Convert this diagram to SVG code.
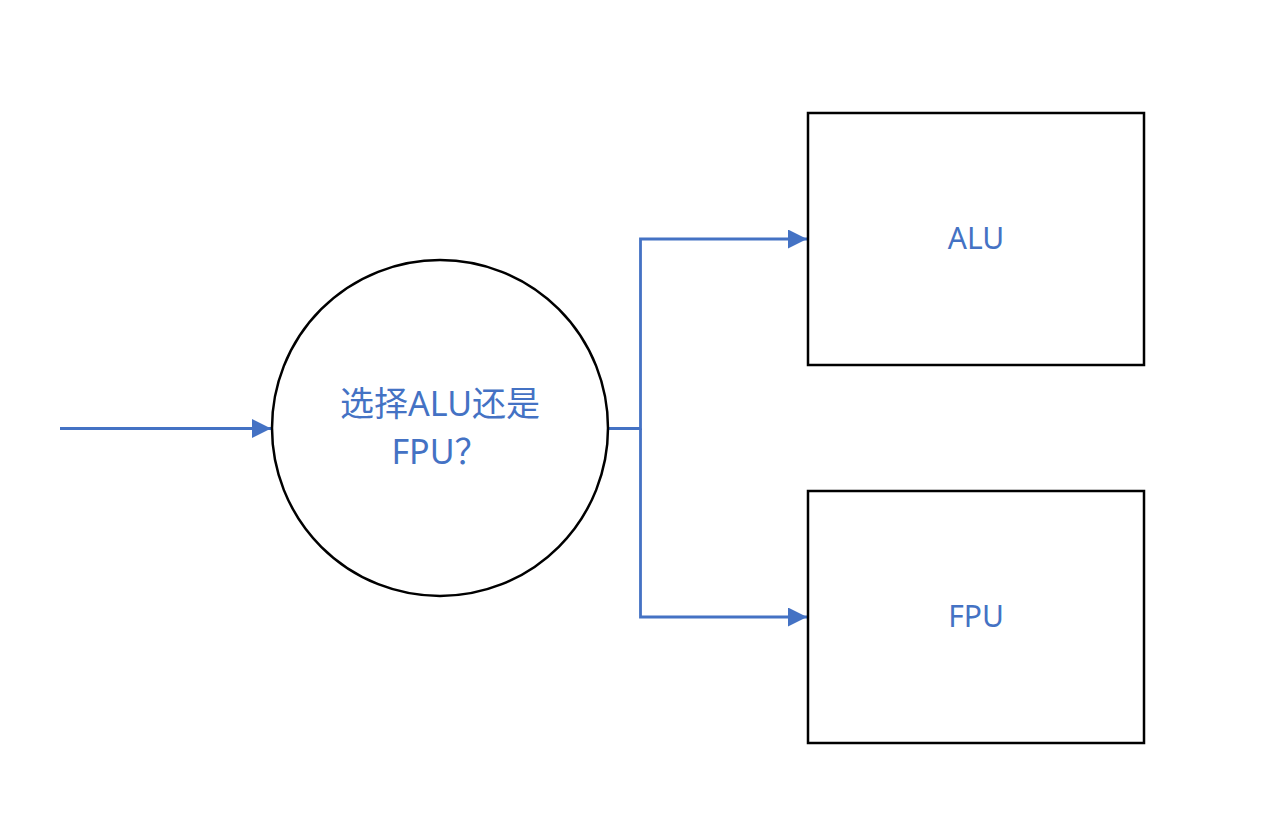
<svg xmlns="http://www.w3.org/2000/svg" width="1262" height="832" viewBox="0 0 1262 832">
<style>
.shape{fill:#fff;stroke:#000;stroke-width:2.5}
.conn{fill:none;stroke:#4472C4;stroke-width:2.8}
.lbl{fill:#4472C4;font-family:"Noto Sans","Noto Sans CJK SC",sans-serif;text-anchor:middle}
</style>
<defs>
<marker id="arr" viewBox="0 0 10 10" refX="10" refY="5" markerWidth="20" markerHeight="19" markerUnits="userSpaceOnUse" orient="auto">
<path d="M0,0 L10,5 L0,10 z" fill="#4472C4"/>
</marker>
</defs>
<rect width="1262" height="832" fill="#fff"/>
<g id="connectors">
<path class="conn" d="M60,428.5 H271" marker-end="url(#arr)"/>
<path class="conn" d="M608,428.5 H640.5 V239 H807" marker-end="url(#arr)"/>
<path class="conn" d="M640.5,428.5 V617 H807" marker-end="url(#arr)"/>
</g>
<g id="decision">
<circle class="shape" cx="440" cy="428" r="168"/>
<text class="lbl" x="440" y="416" font-size="34" font-family="'Noto Sans CJK SC',sans-serif">选择ALU还是</text>
<text class="lbl" x="440" y="464" font-size="34" font-family="'Noto Sans CJK SC',sans-serif">FPU？</text>
</g>
<g id="alu">
<rect class="shape" x="808" y="113" width="336" height="252"/>
<text class="lbl" x="976" y="249" font-size="30">ALU</text>
</g>
<g id="fpu">
<rect class="shape" x="808" y="491" width="336" height="252"/>
<text class="lbl" x="976" y="627" font-size="30">FPU</text>
</g>
</svg>
